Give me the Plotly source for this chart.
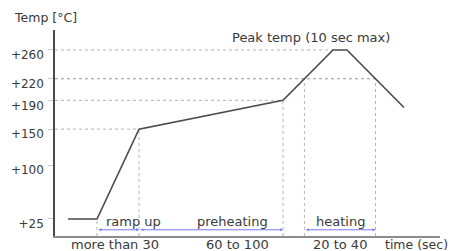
import numpy as np
import plotly.graph_objects as go

# ---- data (schematic reflow profile) ----
time_pts = [13, 42, 84, 228, 278, 292, 349]      # schematic time units
temps = [25, 25, 150, 190, 260, 260, 180]        # °C
tick_vals = [25, 100, 150, 190, 220, 260]
tick_text = ["+25", "+100", "+150", "+190", "+220", "+260"]
phase_names = ["ramp up", "preheating", "heating"]
phase_durations = ["more than 30", "60 to 100", "20 to 40"]
peak_label = "Peak temp (10 sec max)"

FONT = "DejaVu Sans"
TXT = "#3a3a3a"
GRID = "#b5b5b5"

t = np.array(time_pts, float)
T = np.array(temps, float)

# derived landmarks
ramp_start, ramp_end, pre_end = t[1], t[2], t[3]
peak_start, peak_end = t[4], t[5]
heat_start = np.interp(220, T[3:5], t[3:5])
heat_end = np.interp(220, T[5:7][::-1], t[5:7][::-1])

Y0, Y1 = 1.35, 287.8
X0, X1 = 0, 385

# page body has an 8px default margin: figure is sized to fit the window
OFF = 8
W, H = 459 - 2 * OFF, 251 - OFF
PL, PT, PR, PB = 55, 30, 440, 236          # plot-area box in window pixels
PW, PH = PR - PL, PB - PT

fig = go.Figure()

# horizontal reference lines
for level, xend, dash, col in [(260, peak_start, "dot", GRID),
                               (220, heat_end, "3px,3px", "#999999"),
                               (190, pre_end, "dot", GRID),
                               (150, ramp_end, "dot", GRID)]:
    fig.add_trace(go.Scatter(x=[X0, xend], y=[level, level], mode="lines",
                             line=dict(color=col, width=1, dash=dash),
                             hoverinfo="skip", showlegend=False))

# vertical reference lines
for xv, top in [(ramp_start, 25), (ramp_end, 150), (pre_end, 190),
                (heat_start, 220), (heat_end, 220)]:
    fig.add_trace(go.Scatter(x=[xv, xv], y=[Y0, top], mode="lines",
                             line=dict(color=GRID, width=1, dash="dot"),
                             hoverinfo="skip", showlegend=False))

# profile curve
fig.add_trace(go.Scatter(x=t, y=T, mode="lines",
                         line=dict(color="#4a4a4a", width=1.6),
                         hoverinfo="skip", showlegend=False))

annotations = []
arrow_y = 10
label_y = 21
bottom_py = (PB - 244) / PH                 # paper y for labels below the axis
segments = [(ramp_start, ramp_end), (ramp_end, pre_end), (heat_start, heat_end)]
name_x = [78, 177, 285]
dur_x = [59.5, 182, 285]
for (a, b), name, nx, dur, dx in zip(segments, phase_names, name_x, phase_durations, dur_x):
    annotations.append(dict(x=b, y=arrow_y, ax=a, ay=arrow_y, xref="x", yref="y",
                            axref="x", ayref="y", text="", showarrow=True,
                            arrowhead=2, startarrowhead=2, arrowside="end+start",
                            arrowsize=0.6, startarrowsize=0.6, arrowwidth=1,
                            arrowcolor="#7a7aff"))
    annotations.append(dict(x=nx, y=label_y, xref="x", yref="y", text=name,
                            xanchor="center", yanchor="middle",
                            showarrow=False, font=dict(family=FONT, size=13, color=TXT)))
    annotations.append(dict(x=dx, y=bottom_py, xref="x", yref="paper", text=dur,
                            xanchor="center", yanchor="middle",
                            showarrow=False, font=dict(family=FONT, size=13, color=TXT)))

annotations.append(dict(x=(450 - PL) / PW, y=bottom_py, xref="paper", yref="paper",
                        xanchor="right", yanchor="middle",
                        text="time (sec)", showarrow=False,
                        font=dict(family=FONT, size=12.5, color=TXT)))
annotations.append(dict(x=256, y=276.7, xref="x", yref="y", text=peak_label,
                        xanchor="center", yanchor="middle",
                        showarrow=False, font=dict(family=FONT, size=13, color=TXT)))
annotations.append(dict(x=(12 - PL) / PW, y=(PB - 17) / PH, xref="paper", yref="paper",
                        xanchor="left", yanchor="middle", text="Temp [°C]",
                        showarrow=False, font=dict(family=FONT, size=12.5, color=TXT)))

fig.update_layout(
    width=W, height=H,
    margin=dict(l=PL - OFF, r=W + OFF - PR, t=PT - OFF, b=251 - PB, autoexpand=False),
    paper_bgcolor="white", plot_bgcolor="white",
    annotations=annotations,
    xaxis=dict(range=[X0, X1], showgrid=False, zeroline=False, showticklabels=False,
               ticks="", showline=True, linecolor="#8c8c8c", linewidth=1.5),
    yaxis=dict(range=[Y0, Y1], showgrid=False, zeroline=False,
               tickmode="array", tickvals=tick_vals, ticktext=tick_text,
               ticks="outside", ticklen=5, tickcolor="#c8c8c8", tickwidth=1,
               ticklabelshift=5, ticklabelstandoff=2,
               tickfont=dict(family=FONT, size=12, color=TXT),
               showline=True, linecolor="#4a4a4a", linewidth=1.5),
)

fig.write_html("out.html")
